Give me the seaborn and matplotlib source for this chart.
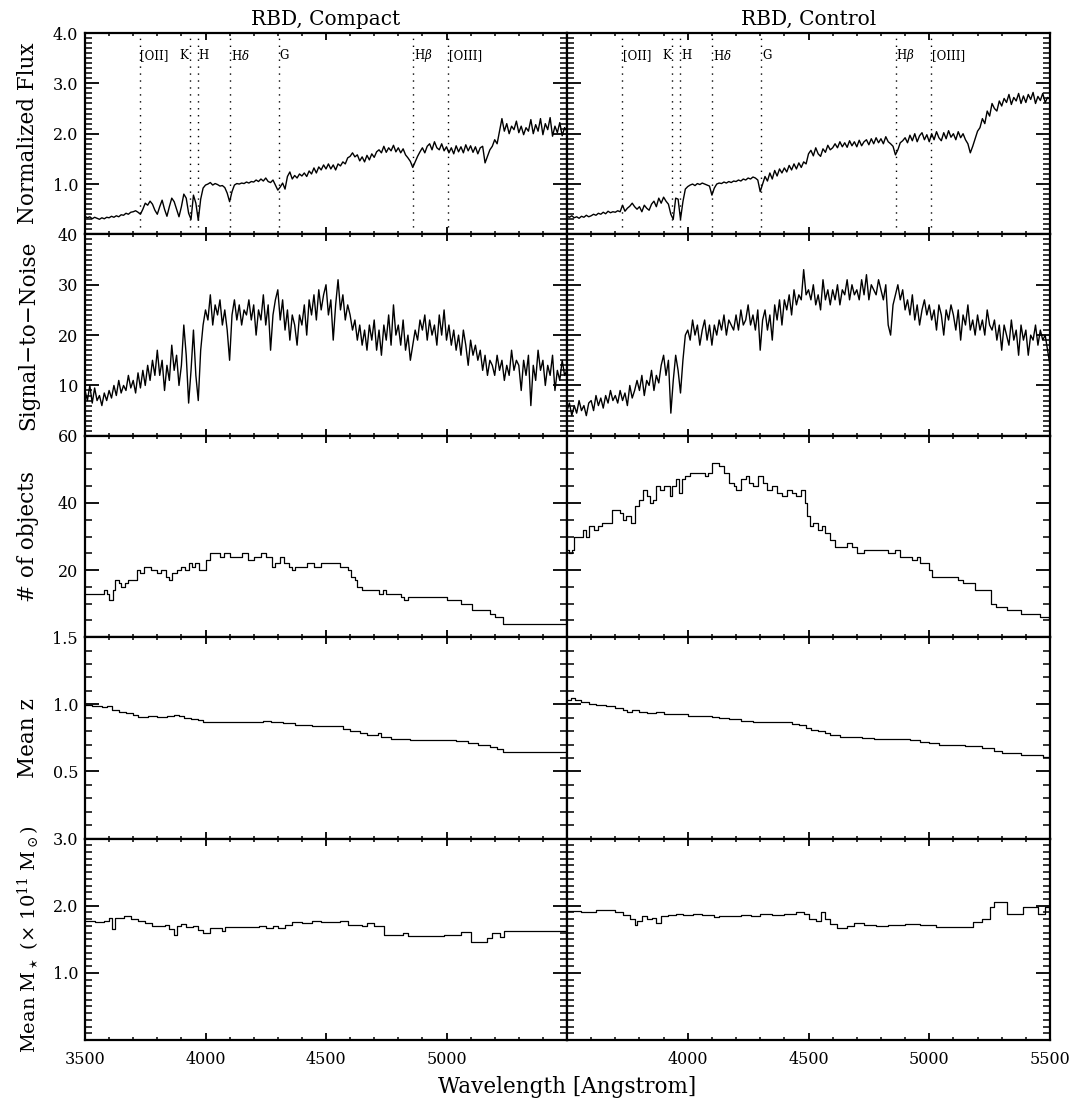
import numpy as np
import pandas as pd
import matplotlib
matplotlib.use("Agg")
import matplotlib.pyplot as plt
import seaborn as sns
from matplotlib.ticker import MultipleLocator, FuncFormatter

# ---------------- data ----------------
wave = np.arange(3500, 5501, 10)  # wavelength grid of the stacked spectra [Angstrom]

flux_compact = [
    0.36, 0.33, 0.35, 0.31, 0.34, 0.32, 0.30, 0.33, 0.31, 0.34,
    0.33, 0.36, 0.34, 0.37, 0.35, 0.39, 0.38, 0.42, 0.40, 0.44,
    0.45, 0.47, 0.44, 0.40, 0.50, 0.62, 0.58, 0.66, 0.60, 0.48,
    0.40, 0.55, 0.68, 0.50, 0.36, 0.55, 0.72, 0.65, 0.50, 0.35,
    0.55, 0.80, 0.72, 0.42, 0.30, 0.78, 0.62, 0.28, 0.70, 0.92,
    0.98, 1.00, 1.03, 0.98, 1.01, 0.99, 0.96, 0.97, 0.93, 0.82,
    0.65, 0.85, 0.98, 1.01, 1.00, 1.02, 1.01, 1.04, 1.02, 1.05,
    1.04, 1.08, 1.05, 1.10, 1.06, 1.12, 1.05, 1.03, 1.08, 0.98,
    0.88, 0.94, 1.02, 0.90, 1.15, 1.24, 1.10, 1.17, 1.12, 1.20,
    1.16, 1.22, 1.15, 1.26, 1.20, 1.32, 1.22, 1.34, 1.28, 1.38,
    1.30, 1.40, 1.30, 1.38, 1.28, 1.40, 1.36, 1.44, 1.40, 1.52,
    1.55, 1.62, 1.54, 1.58, 1.46, 1.54, 1.44, 1.57, 1.48, 1.60,
    1.53, 1.64, 1.68, 1.62, 1.75, 1.63, 1.72, 1.66, 1.77, 1.64,
    1.72, 1.62, 1.70, 1.58, 1.52, 1.45, 1.33, 1.44, 1.55, 1.64,
    1.72, 1.62, 1.75, 1.80, 1.68, 1.84, 1.72, 1.68, 1.80, 1.66,
    1.74, 1.62, 1.72, 1.60, 1.76, 1.64, 1.74, 1.62, 1.78, 1.66,
    1.76, 1.63, 1.74, 1.60, 1.72, 1.75, 1.42, 1.55, 1.68, 1.75,
    1.88, 1.80, 2.05, 2.30, 2.05, 2.20, 2.00, 2.15, 2.08, 2.25,
    2.02, 2.15, 1.98, 2.12, 2.05, 2.28, 2.00, 2.18, 2.05, 2.30,
    1.98, 2.20, 2.08, 2.32, 1.95, 2.15, 2.02, 2.22, 1.96, 2.12,
    2.05,
]

flux_control = [
    0.36, 0.34, 0.37, 0.33, 0.35, 0.32, 0.36, 0.34, 0.38, 0.35,
    0.37, 0.40, 0.38, 0.42, 0.40, 0.44, 0.41, 0.46, 0.43, 0.45,
    0.44, 0.47, 0.45, 0.58, 0.46, 0.52, 0.56, 0.62, 0.55, 0.50,
    0.55, 0.45, 0.58, 0.52, 0.48, 0.60, 0.66, 0.55, 0.72, 0.62,
    0.74, 0.66, 0.60, 0.40, 0.30, 0.72, 0.70, 0.30, 0.65, 0.90,
    0.95, 0.98, 1.00, 0.97, 1.01, 0.99, 1.02, 1.00, 0.98, 0.96,
    0.78, 0.92, 1.00, 1.02, 1.01, 1.04, 1.02, 1.05, 1.03, 1.06,
    1.05, 1.08, 1.06, 1.10, 1.08, 1.12, 1.10, 1.14, 1.12, 1.08,
    0.85, 1.00, 1.15, 1.06, 1.22, 1.10, 1.27, 1.16, 1.30, 1.22,
    1.32, 1.24, 1.37, 1.28, 1.40, 1.30, 1.42, 1.33, 1.44, 1.40,
    1.60, 1.67, 1.56, 1.72, 1.60, 1.55, 1.70, 1.63, 1.77, 1.68,
    1.72, 1.80, 1.72, 1.84, 1.74, 1.82, 1.73, 1.86, 1.76, 1.84,
    1.74, 1.87, 1.76, 1.84, 1.88, 1.78, 1.90, 1.80, 1.92, 1.82,
    1.90, 1.80, 1.94, 1.84, 1.80, 1.75, 1.58, 1.68, 1.82, 1.86,
    1.92, 1.82, 1.97, 1.86, 2.00, 1.84, 1.96, 2.02, 1.88, 1.98,
    1.84, 2.00, 1.88, 2.04, 1.92, 1.86, 2.02, 1.90, 2.06, 1.93,
    2.00, 1.88, 2.04, 1.92, 2.00, 1.88, 1.80, 1.62, 1.75, 1.90,
    2.05, 2.12, 2.30, 2.20, 2.45, 2.35, 2.60, 2.50, 2.45, 2.65,
    2.55, 2.70, 2.62, 2.78, 2.58, 2.72, 2.65, 2.80, 2.60, 2.75,
    2.62, 2.78, 2.68, 2.82, 2.60, 2.74, 2.66, 2.80, 2.62, 2.72,
    2.68,
]

sn_compact = [
    9, 7, 10, 6.5, 9.5, 7, 8, 6, 8.5, 7,
    9, 7.5, 10, 8, 11, 8.5, 10, 9, 12, 9.5,
    11, 8.5, 12.5, 9.5, 13, 10, 14, 11, 15, 12,
    17, 12, 15, 9, 14, 11, 18, 13, 16, 10,
    14, 22, 16, 6.5, 13, 21, 12, 7, 17, 22,
    25, 23, 28, 22, 26, 24, 27, 22, 25, 21,
    15, 24, 27, 23, 26, 22, 25, 24, 27, 23,
    26, 20, 25, 23, 28, 22, 26, 17, 24, 27,
    29, 23, 27, 21, 25, 19, 24, 22, 18, 24,
    22, 26, 20, 27, 24, 28, 23, 29, 25, 28,
    30, 24, 27, 19, 26, 31, 25, 28, 23, 26,
    24, 21, 23, 19, 22, 18, 21, 17, 22, 19,
    23, 17, 21, 16, 22, 19, 24, 18, 26, 20,
    22, 18, 23, 17, 20, 15, 18, 21, 19, 23,
    21, 24, 19, 23, 20, 22, 18, 24, 20, 25,
    19, 22, 18, 21, 17, 20, 16, 21, 18, 14,
    19, 16, 18, 15, 17, 13, 16, 12, 15, 14,
    12, 16, 13, 15, 11, 14, 12, 17, 13, 15,
    14, 9, 15, 12, 16, 6, 14, 11, 17, 13,
    15, 10, 14, 12, 16, 9, 13, 11, 15, 12,
    13,
]

sn_control = [
    5, 6.5, 4, 6, 4.5, 7, 5, 6, 4, 6.5,
    7, 5, 8, 6, 7.5, 5.5, 8, 6.5, 9, 7,
    8, 6.5, 9, 7, 8.5, 6, 10, 7.5, 9, 11,
    9, 12, 8, 11, 10, 13, 9, 12, 10.5, 14,
    16, 12, 15, 4.5, 11, 16, 13, 8.5, 15, 20,
    21, 19, 23, 20, 22, 18, 21, 23, 19, 22,
    18, 22, 20, 23, 21, 24, 20, 23, 22, 21,
    24, 21, 25, 22, 23, 26, 22, 24, 21, 25,
    17, 23, 25, 21, 24, 19, 26, 23, 27, 22,
    27, 25, 28, 24, 29, 26, 28, 27, 33, 28,
    29, 27, 30, 26, 28, 25, 31, 27, 29, 26,
    29, 27, 30, 26, 29, 28, 31, 27, 30, 28,
    29, 27, 31, 28, 32, 27, 30, 29, 28, 31,
    29, 27, 30, 22, 20, 26, 28, 30, 27, 29,
    25, 27, 24, 28, 23, 26, 22, 25, 27, 24,
    26, 23, 25, 21, 26, 24, 20, 25, 23, 26,
    24, 21, 25, 19, 24, 22, 26, 21, 23, 20,
    24, 21, 23, 20, 25, 22, 21, 23, 19, 22,
    17, 22, 20, 18, 23, 19, 21, 16, 22, 19,
    21, 16, 20, 19, 22, 18, 21, 19, 20, 17,
    14,
]

# step functions: bin start wavelength and value
nobj_compact_wave = [3500, 3580, 3590, 3600, 3615, 3625, 3640, 3650, 3665, 3680, 3715, 3730, 3745, 3775,
                     3800, 3815, 3835, 3850, 3860, 3880, 3900, 3915, 3930, 3945, 3955, 3975, 4000, 4020,
                     4060, 4075, 4100, 4150, 4175, 4200, 4230, 4250, 4275, 4290, 4310, 4325, 4345, 4360,
                     4370, 4420, 4450, 4480, 4560, 4590, 4605, 4620, 4630, 4650, 4720, 4735, 4750, 4810,
                     4825, 4840, 5000, 5060, 5105, 5180, 5200, 5235, 5500]
nobj_compact = [13, 14, 13, 11, 14, 17, 16, 15, 16, 17, 20, 19, 21, 20,
                19, 20, 18, 17, 19, 20, 21, 20, 22, 21, 22, 20, 23, 25,
                24, 25, 24, 25, 23, 24, 25, 24, 21, 22, 24, 22, 21, 20,
                21, 22, 21, 22, 21, 20, 18, 17, 15, 14, 13, 14, 13, 12,
                11, 12, 11, 10, 8, 7, 6, 4, 4]

nobj_control_wave = [3500, 3510, 3520, 3530, 3565, 3580, 3590, 3610, 3630, 3645, 3685, 3720, 3730, 3745,
                     3765, 3780, 3800, 3815, 3830, 3845, 3855, 3870, 3885, 3900, 3925, 3935, 3950, 3965,
                     3975, 3990, 4010, 4070, 4085, 4100, 4130, 4150, 4170, 4190, 4200, 4220, 4240, 4255,
                     4270, 4290, 4310, 4330, 4350, 4370, 4390, 4410, 4430, 4450, 4470, 4485, 4495, 4505,
                     4520, 4540, 4555, 4570, 4590, 4610, 4660, 4680, 4700, 4730, 4760, 4830, 4860, 4880,
                     4930, 4950, 4960, 5000, 5010, 5120, 5140, 5190, 5255, 5275, 5320, 5380, 5460, 5495, 5500]
nobj_control = [26, 25, 26, 30, 32, 30, 33, 32, 33, 34, 38, 37, 35, 36,
                34, 39, 41, 44, 42, 40, 41, 45, 44, 45, 42, 45, 47, 43,
                47, 48, 49, 48, 49, 52, 51, 49, 46, 45, 44, 47, 48, 46,
                45, 48, 46, 44, 45, 43, 42, 44, 43, 42, 44, 40, 36, 33,
                34, 32, 33, 31, 29, 27, 28, 27, 25, 26, 26, 25, 26, 24,
                23, 24, 22, 20, 18, 17, 16, 14, 10, 9, 8, 7, 6, 5, 5]

z_compact_wave = [3500, 3530, 3570, 3590, 3610, 3640, 3670, 3700, 3720, 3760, 3800, 3840, 3870, 3890,
                  3910, 3940, 3970, 3990, 4080, 4180, 4240, 4270, 4320, 4370, 4440, 4540, 4570, 4600,
                  4640, 4670, 4715, 4730, 4770, 4850, 5040, 5090, 5130, 5180, 5210, 5235, 5500]
z_compact = [0.995, 0.985, 0.98, 0.985, 0.96, 0.945, 0.935, 0.92, 0.905, 0.91, 0.905, 0.91, 0.92, 0.915,
             0.90, 0.89, 0.885, 0.87, 0.865, 0.87, 0.875, 0.865, 0.86, 0.845, 0.84, 0.835, 0.815, 0.80,
             0.785, 0.77, 0.785, 0.755, 0.74, 0.735, 0.725, 0.71, 0.70, 0.685, 0.67, 0.645, 0.645]

z_control_wave = [3500, 3515, 3535, 3560, 3590, 3620, 3660, 3700, 3730, 3750, 3770, 3800, 3830, 3870,
                  3900, 3960, 4000, 4060, 4100, 4130, 4170, 4220, 4270, 4330, 4360, 4400, 4430, 4460,
                  4490, 4510, 4540, 4570, 4590, 4630, 4680, 4720, 4770, 4830, 4880, 4920, 4960, 5000,
                  5040, 5150, 5220, 5270, 5300, 5380, 5470, 5500]
z_control = [1.03, 1.045, 1.03, 1.02, 1.005, 0.995, 0.985, 0.975, 0.955, 0.945, 0.955, 0.94, 0.935, 0.94,
             0.93, 0.925, 0.915, 0.91, 0.905, 0.895, 0.89, 0.875, 0.865, 0.87, 0.865, 0.87, 0.855, 0.845,
             0.825, 0.81, 0.805, 0.785, 0.77, 0.76, 0.755, 0.75, 0.745, 0.74, 0.745, 0.735, 0.72, 0.71,
             0.695, 0.69, 0.675, 0.655, 0.635, 0.625, 0.605, 0.605]

mass_compact_wave = [3500, 3540, 3580, 3600, 3610, 3625, 3660, 3690, 3720, 3750, 3780, 3830, 3850, 3870,
                     3880, 3900, 3920, 3950, 3970, 3990, 4020, 4070, 4080, 4150, 4220, 4250, 4280, 4300,
                     4330, 4360, 4400, 4440, 4480, 4560, 4590, 4650, 4670, 4700, 4740, 4820, 4840, 4990,
                     5060, 5100, 5170, 5190, 5220, 5240, 5500]
mass_compact = [1.78, 1.76, 1.78, 1.81, 1.66, 1.82, 1.85, 1.80, 1.78, 1.74, 1.70, 1.72, 1.66, 1.57,
                1.70, 1.73, 1.68, 1.70, 1.64, 1.60, 1.67, 1.62, 1.68, 1.69, 1.70, 1.67, 1.70, 1.67,
                1.72, 1.76, 1.75, 1.78, 1.76, 1.77, 1.71, 1.70, 1.74, 1.70, 1.57, 1.59, 1.55, 1.56,
                1.61, 1.46, 1.52, 1.60, 1.54, 1.62, 1.62]

mass_control_wave = [3500, 3560, 3620, 3680, 3700, 3730, 3760, 3780, 3790, 3810, 3830, 3850, 3870, 3890,
                     3920, 3950, 3980, 4020, 4060, 4110, 4130, 4180, 4220, 4260, 4300, 4350, 4400, 4450,
                     4480, 4500, 4530, 4550, 4570, 4590, 4620, 4660, 4690, 4730, 4780, 4830, 4900, 4960,
                     5000, 5030, 5180, 5220, 5250, 5270, 5320, 5390, 5450, 5480, 5500]
mass_control = [1.92, 1.91, 1.93, 1.94, 1.90, 1.86, 1.80, 1.72, 1.78, 1.85, 1.80, 1.82, 1.75, 1.84,
                1.86, 1.88, 1.86, 1.88, 1.86, 1.83, 1.85, 1.84, 1.86, 1.85, 1.87, 1.86, 1.88, 1.90,
                1.87, 1.80, 1.77, 1.90, 1.80, 1.73, 1.67, 1.70, 1.74, 1.72, 1.70, 1.71, 1.73, 1.71,
                1.72, 1.68, 1.76, 1.80, 1.98, 2.05, 1.87, 1.98, 1.87, 1.98, 1.98]

feature_names = ["[OII]", "K", "H", r"H$\delta$", "G", r"H$\beta$", "[OIII]"]
feature_waves = [3727, 3934, 3969, 4102, 4304, 4861, 5007]

column_titles = ["RBD, Compact", "RBD, Control"]
row_labels = ["Normalized Flux", "Signal\u2212to\u2212Noise", "# of objects", "Mean z",
              r"Mean M$_\star$ (× 10$^{11}$ M$_\odot$)"]
row_label_sizes = [15.5, 15.5, 15.5, 15.5, 14.0]
xlabel_text = "Wavelength [Angstrom]"

# ---------------- style ----------------
sns.set_theme(style="ticks")
plt.rcParams["font.family"] = ["DejaVu Serif"]
plt.rcParams["mathtext.fontset"] = "dejavuserif"
plt.rcParams["axes.linewidth"] = 1.6
for key in ["text.color", "axes.labelcolor", "xtick.color", "ytick.color", "axes.edgecolor"]:
    plt.rcParams[key] = "black"

W, H = 1073, 1107
fig = plt.figure(figsize=(W / 100, H / 100), dpi=100)
fig.patch.set_facecolor("white")

x_left = [85 / W, 567 / W]
x_width = [482 / W, 483 / W]
top, bottom = 1 - 33 / H, 1 - 1040 / H
row_h = (top - bottom) / 5

rows = [
    dict(kind="line", data=(flux_compact, flux_control), ylim=(0, 4.0), major=1.0, minor=0.1, fmt="{:.1f}"),
    dict(kind="line", data=(sn_compact, sn_control), ylim=(0, 40), major=10, minor=1, fmt="{:.0f}"),
    dict(kind="step", data=((nobj_compact_wave, nobj_compact), (nobj_control_wave, nobj_control)),
         ylim=(0, 60), major=20, minor=5, fmt="{:.0f}"),
    dict(kind="step", data=((z_compact_wave, z_compact), (z_control_wave, z_control)),
         ylim=(0, 1.5), major=0.5, minor=0.1, fmt="{:.1f}"),
    dict(kind="step", data=((mass_compact_wave, mass_compact), (mass_control_wave, mass_control)),
         ylim=(0, 3.0), major=1.0, minor=0.1, fmt="{:.1f}"),
]

for r, cfg in enumerate(rows):
    y0 = top - (r + 1) * row_h
    for c in range(2):
        ax = fig.add_axes([x_left[c], y0, x_width[c], row_h])
        if cfg["kind"] == "line":
            df = pd.DataFrame({"wave": wave, "val": cfg["data"][c]})
            sns.lineplot(data=df, x="wave", y="val", ax=ax, color="black", lw=1.0,
                         estimator=None, sort=False)
        else:
            wv, vv = cfg["data"][c]
            df = pd.DataFrame({"wave": wv, "val": vv})
            sns.lineplot(data=df, x="wave", y="val", ax=ax, color="black", lw=0.9,
                         estimator=None, sort=False, drawstyle="steps-post")
        ax.set_xlim(3500, 5500)
        ax.set_ylim(*cfg["ylim"])
        ax.set_xlabel("")
        ax.set_ylabel("")
        for s in ax.spines.values():
            s.set_visible(True)
            s.set_linewidth(1.6)
            s.set_color("black")
        ax.xaxis.set_major_locator(MultipleLocator(500))
        ax.xaxis.set_minor_locator(MultipleLocator(100))
        ax.yaxis.set_major_locator(MultipleLocator(cfg["major"]))
        ax.yaxis.set_minor_locator(MultipleLocator(cfg["minor"]))
        ax.tick_params(axis="both", which="both", direction="in", top=True, right=True,
                       bottom=True, left=True, colors="black", labelsize=11.5)
        ax.tick_params(axis="y", which="major", length=10, width=1.3)
        ax.tick_params(axis="y", which="minor", length=5, width=1.1)
        ax.tick_params(axis="x", which="major", length=5, width=1.3)
        ax.tick_params(axis="x", which="minor", length=2.5, width=1.1)
        ax.tick_params(axis="x", pad=8)
        ax.tick_params(axis="y", pad=5)

        if c == 0:
            fmt = cfg["fmt"]
            ax.yaxis.set_major_formatter(FuncFormatter(
                lambda v, p, fmt=fmt: "" if abs(v) < 1e-9 else fmt.format(v)))
        else:
            ax.yaxis.set_major_formatter(FuncFormatter(lambda v, p: ""))

        if r == 4:
            if c == 0:
                ax.xaxis.set_major_formatter(FuncFormatter(
                    lambda v, p: "" if v > 5499 else f"{v:.0f}"))
            else:
                ax.xaxis.set_major_formatter(FuncFormatter(
                    lambda v, p: "" if v < 3501 else f"{v:.0f}"))
        else:
            ax.xaxis.set_major_formatter(FuncFormatter(lambda v, p: ""))

        ax.set_facecolor("white")

        if r == 0:
            for name, wl in zip(feature_names, feature_waves):
                ax.axvline(wl, color="black", lw=1.0, ls=(0, (1, 4)))
                if name == "K":
                    ax.text(wl - 4, 3.55, name, ha="right", va="center", fontsize=8.5)
                else:
                    ax.text(wl + 3, 3.55, name, ha="left", va="center", fontsize=8.5)
            ax.set_title(column_titles[c], fontsize=14.5, pad=6)

    fig.text(28 / W, y0 + row_h / 2, row_labels[r], rotation=90, ha="center", va="center",
             fontsize=row_label_sizes[r])

fig.text(567 / W, 1 - 1087 / H, xlabel_text, ha="center", va="center", fontsize=15.5)

fig.savefig("out.png", dpi=100, facecolor="white")
